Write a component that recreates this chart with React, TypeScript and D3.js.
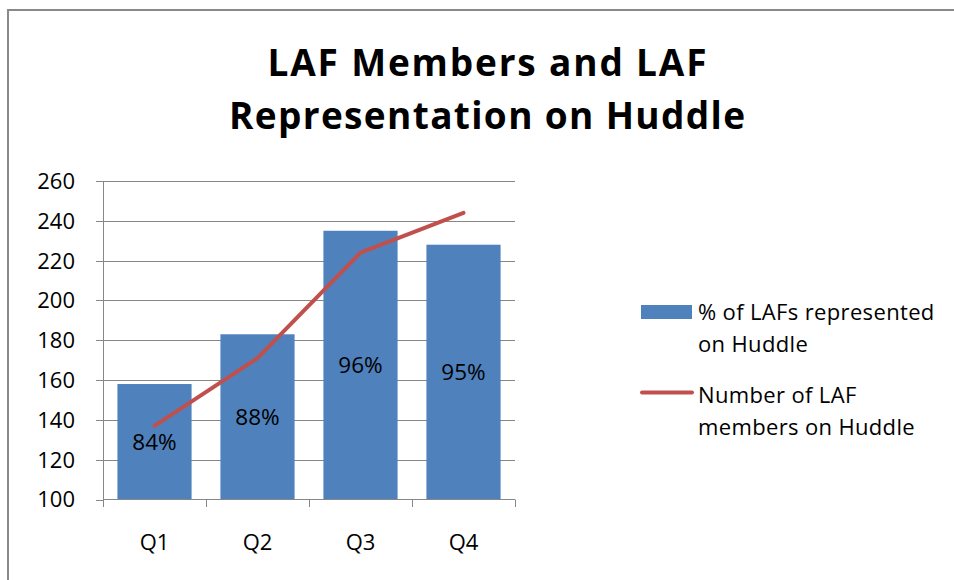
import React from "react";
import * as d3 from "d3";

const categories = ["Q1", "Q2", "Q3", "Q4"];
const barValues = [158, 183, 235, 228];
const barLabels = ["84%", "88%", "96%", "95%"];
const lineValues = [137, 171, 224, 244];
const yTicks = [100, 120, 140, 160, 180, 200, 220, 240, 260];
const titleLines = ["LAF Members and LAF", "Representation on Huddle"];
const legendBar = ["% of LAFs represented", "on Huddle"];
const legendLine = ["Number of LAF", "members on Huddle"];

const W = 954;
const H = 580;
const FONT = "'Open Sans', 'Noto Sans', sans-serif";

export default function App() {
  const x = d3
    .scaleBand<string>()
    .domain(categories)
    .range([103, 515])
    .paddingInner(0.28)
    .paddingOuter(0.14);
  const y = d3.scaleLinear().domain([100, 260]).range([499.5, 181]);

  const line = d3
    .line<number>()
    .x((_, i) => (x(categories[i]) as number) + x.bandwidth() / 2)
    .y((d) => y(d));

  const gridColor = "#878787";
  const axisColor = "#878787";
  const barColor = "#4F81BD";
  const lineColor = "#C0504D";

  const tickEdges = [...categories.map((c) => x(c)! - (x.step() - x.bandwidth()) / 2), 515];
  const titleWidths = [439, 516];

  return (
    <svg
      width={W}
      height={H}
      style={{ position: "absolute", left: 0, top: 0, background: "#fff" }}
      fontFamily={FONT}
    >
      <rect x={0} y={0} width={W} height={H} fill="#fff" />
      {/* frame */}
      <line x1={8} y1={10} x2={W} y2={10} stroke="#898989" strokeWidth={2} />
      <line x1={8} y1={9} x2={8} y2={H} stroke="#898989" strokeWidth={2} />

      {/* title */}
      {titleLines.map((t, i) => (
        <text
          key={t}
          x={487}
          y={76 + i * 53}
          textAnchor="middle"
          fontSize={37}
          fontWeight="bold"
          fill="#000"
          textLength={titleWidths[i]}
          lengthAdjust="spacing"
        >
          {t}
        </text>
      ))}

      {/* gridlines */}
      {yTicks.slice(1).map((t) => (
        <line
          key={"g" + t}
          x1={103}
          x2={515}
          y1={Math.round(y(t)) + 0.5}
          y2={Math.round(y(t)) + 0.5}
          stroke={gridColor}
          strokeWidth={1}
        />
      ))}

      {/* y axis */}
      <line x1={103.5} x2={103.5} y1={y(260)} y2={y(100) + 0.5} stroke={axisColor} strokeWidth={1} />
      {yTicks.map((t) => (
        <g key={"yt" + t}>
          <line
            x1={96}
            x2={103}
            y1={Math.round(y(t)) + 0.5}
            y2={Math.round(y(t)) + 0.5}
            stroke={axisColor}
          />
          <text x={75} y={y(t)} dy="0.36em" textAnchor="end" fontSize={22} fill="#000">
            {t}
          </text>
        </g>
      ))}

      {/* bars */}
      {barValues.map((v, i) => (
        <rect
          key={"b" + i}
          x={x(categories[i])}
          y={y(v)}
          width={x.bandwidth()}
          height={y(100) - y(v)}
          fill={barColor}
        />
      ))}

      {/* x axis */}
      <line x1={103} x2={515} y1={499.5} y2={499.5} stroke={axisColor} />
      {tickEdges.map((e, i) => (
        <line key={"xt" + i} x1={Math.round(e) + 0.5} x2={Math.round(e) + 0.5} y1={499.5} y2={507} stroke={axisColor} />
      ))}
      {categories.map((c) => (
        <text
          key={"xl" + c}
          x={(x(c) as number) + x.bandwidth() / 2}
          y={550}
          textAnchor="middle"
          fontSize={22}
          fill="#000"
        >
          {c}
        </text>
      ))}

      {/* line */}
      <path d={line(lineValues) || ""} fill="none" stroke={lineColor} strokeWidth={4} strokeLinecap="round" strokeLinejoin="round" />

      {/* bar labels */}
      {barLabels.map((l, i) => (
        <text
          key={"bl" + i}
          x={(x(categories[i]) as number) + x.bandwidth() / 2}
          y={(y(barValues[i]) + y(100)) / 2}
          dy="0.36em"
          textAnchor="middle"
          fontSize={22.5}
          fill="#000"
        >
          {l}
        </text>
      ))}

      {/* legend */}
      <rect x={641} y={305} width={51} height={14} fill={barColor} />
      {legendBar.map((t, i) => (
        <text key={"lb" + i} x={698} y={320 + i * 32} fontSize={22} letterSpacing={0.35} fill="#000">
          {t}
        </text>
      ))}
      <line x1={642} x2={692} y1={392.5} y2={392.5} stroke={lineColor} strokeWidth={4} strokeLinecap="round" />
      {legendLine.map((t, i) => (
        <text key={"ll" + i} x={698} y={403 + i * 32} fontSize={22} letterSpacing={0.35} fill="#000">
          {t}
        </text>
      ))}
    </svg>
  );
}
